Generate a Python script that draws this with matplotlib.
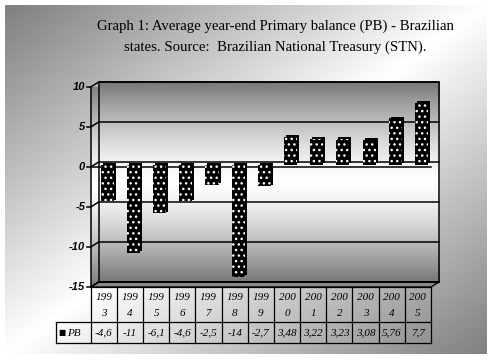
import numpy as np
import matplotlib
matplotlib.use("Agg")
import matplotlib.pyplot as plt
import matplotlib.transforms as mtransforms
from matplotlib.patches import Polygon

# data
years = ['1993', '1994', '1995', '1996', '1997', '1998', '1999',
         '2000', '2001', '2002', '2003', '2004', '2005']
pb = [-4.6, -11, -6.1, -4.6, -2.5, -14, -2.7, 3.48, 3.22, 3.23, 3.08, 5.76, 7.7]
pb_labels = ['-4,6', '-11', '-6,1', '-4,6', '-2,5', '-14', '-2,7',
             '3,48', '3,22', '3,23', '3,08', '5,76', '7,7']
y_ticks = [10, 5, 0, -5, -10, -15]
title_lines = ['Graph 1: Average year-end Primary balance (PB) - Brazilian',
               'states. Source:  Brazilian National Treasury (STN).']

W, H = 495, 360
fig = plt.figure(figsize=(W / 100, H / 100), dpi=100)

# background with diagonal gray gradient
bg = fig.add_axes([0, 0, 1, 1])
bg.set_xlim(0, W)
bg.set_ylim(H, 0)
bg.axis('off')
gx, gy = np.meshgrid(np.linspace(0, 1, 300), np.linspace(0, 1, 220))
t = (gx + gy) / 2
g = 1 - 0.5 * np.abs(2 * t - 1)
bg.imshow(g, cmap='gray', vmin=0, vmax=1, extent=(5, 487, 354, 5),
          aspect='auto', interpolation='bilinear')

for i, line in enumerate(title_lines):
    bg.text(275, 26 + i * 21, line, ha='center', va='center', fontsize=10.6,
            family='Liberation Serif')

# front plane of the 3d plot
left, right, top, bottom = 90.7, 431.0, 87.0, 287.0
ax = fig.add_axes([left / W, 1 - bottom / H, (right - left) / W, (bottom - top) / H])
ax.set_xlim(-0.5, len(years) - 0.5)
ax.set_ylim(-15, 10)
ax.axis('off')
ax.patch.set_alpha(0)

ppx = (right - left) / len(years)
ppy = (bottom - top) / 25
DX, DY = 8 / ppx, 5 / ppy
x0, x1 = -0.5, len(years) - 0.5
ymin, ymax = -15, 10

# back wall gradient
wv = np.linspace(0, 1, 200)[:, None]
wall = 1 - 0.53 * np.abs(2 * wv - 1) ** 1.4
ax.imshow(np.repeat(wall, 2, axis=1), cmap='gray', vmin=0, vmax=1,
          extent=(x0 + DX, x1 + DX, ymin + DY, ymax + DY), aspect='auto',
          interpolation='bilinear', clip_on=False, zorder=1)
# left side wall
side = Polygon([(x0, ymin), (x0 + DX, ymin + DY), (x0 + DX, ymax + DY), (x0, ymax)],
               closed=True, facecolor='none', edgecolor='none')
ax.add_patch(side)
im = ax.imshow(np.repeat(wall, 2, axis=1), cmap='gray', vmin=0, vmax=1,
               extent=(x0, x0 + DX, ymin, ymax + DY), aspect='auto',
               interpolation='bilinear', zorder=1)
im.set_clip_path(side)
# floor
ax.add_patch(Polygon([(x0, ymin), (x1, ymin), (x1 + DX, ymin + DY), (x0 + DX, ymin + DY)],
                     closed=True, facecolor='#8a8a8a', edgecolor='black', lw=1,
                     clip_on=False, zorder=1))

# wall outlines and gridlines
kw = dict(color='black', lw=1.1, clip_on=False, zorder=2)
ax.plot([x0 + DX, x1 + DX, x1 + DX, x0 + DX, x0 + DX],
        [ymin + DY, ymin + DY, ymax + DY, ymax + DY, ymin + DY], **kw)
ax.plot([x0, x0], [ymin, ymax], **kw)
for v in y_ticks:
    ax.plot([x0, x0 + DX, x1 + DX], [v, v + DY, v + DY], **kw)
    ax.plot([x0 - 3.5 / ppx, x0], [v, v], **kw)
    ax.text(x0 - 5.5 / ppx, v, str(v), ha='right', va='center', fontsize=8,
            family='Liberation Sans', weight='bold', style='italic')
ax.plot([x0, x1], [0, 0], **kw)

# bars at mid depth, with a black side for depth
x = np.arange(len(years))
mid = mtransforms.offset_copy(ax.transData, fig=fig, x=3.5, y=2.5, units='dots')
sidet = mtransforms.offset_copy(ax.transData, fig=fig, x=5.5, y=4.0, units='dots')
ax.bar(x, pb, 0.5, color='black', linewidth=0, transform=sidet, zorder=3, clip_on=False)
ax.bar(x, pb, 0.5, color='black', edgecolor='white', hatch='...', linewidth=0,
       transform=mid, zorder=4, clip_on=False)

# data table below the plot
tr = mtransforms.blended_transform_factory(ax.transData, bg.transData)
lkw = dict(color='black', lw=0.9, transform=tr, clip_on=False)
leg_x = x0 - (left - 56) / ppx
bg.plot([x0, x1], [287, 287], **lkw)
bg.plot([leg_x, x1], [322, 322], **lkw)
bg.plot([leg_x, x1], [343, 343], **lkw)
for b in np.arange(len(years) + 1) - 0.5:
    bg.plot([b, b], [287, 343], **lkw)
bg.plot([leg_x, leg_x], [322, 343], **lkw)
tkw = dict(ha='center', va='center', fontsize=8, family='Liberation Serif',
           style='italic', transform=tr)
for xi, yr, lab in zip(x, years, pb_labels):
    bg.text(xi, 298, yr[:3], **tkw)
    bg.text(xi, 313, yr[3:], **tkw)
    bg.text(xi, 333, lab, **tkw)
bg.text(leg_x + 2 / ppx, 333, '\u25a0', ha='left', va='center', fontsize=5.5,
        family='DejaVu Sans', transform=tr)
bg.text(leg_x + 11 / ppx, 333, 'PB', ha='left', va='center', fontsize=8,
        family='Liberation Serif', style='italic', transform=tr)

fig.savefig('out.png', dpi=100)
